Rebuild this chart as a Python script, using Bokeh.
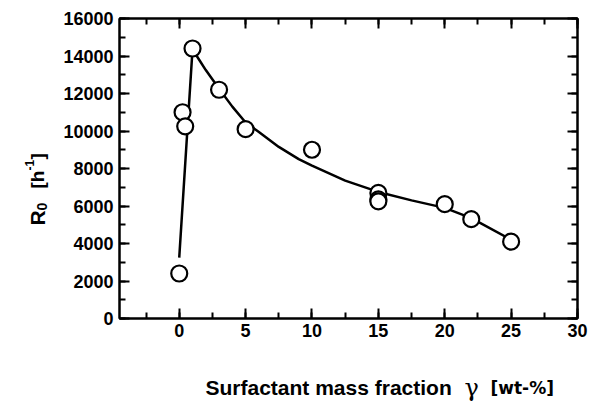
import math
from bokeh.plotting import figure
from bokeh.layouts import row, column
from bokeh.models import (LinearAxis, SingleIntervalTicker, Range1d, Label,
                          CustomJSTickFormatter)
from bokeh.embed import file_html
from bokeh.resources import INLINE

# measured points
data_x = [0, 0.25, 0.45, 1, 3, 5, 10, 15, 15, 15, 20, 22, 25]
data_y = [2400, 11000, 10250, 14400, 12200, 10100, 9000, 6700, 6350, 6250, 6100, 5300, 4100]

# fitted curve
fit_x = [0, 1, 1.5, 2, 3, 4, 5, 6, 7.5, 9, 10, 12.5, 15, 17.5, 20, 22, 25]
fit_y = [3250, 14350, 13800, 13250, 12250, 11300, 10450, 9950, 9150, 8500, 8150,
         7350, 6750, 6300, 5900, 5350, 4200]

x_lim = (-4.5, 30)
y_lim = (0, 16000)
x_title = "Surfactant mass fraction"
x_symbol = "γ"
x_unit = "[wt-%]"

FONT = "Liberation Sans"
W, H = 589, 416
WL = 60          # width of left label strip
HB = 56          # height of bottom label strip

p = figure(width=W - WL, height=H - HB, output_backend="svg", toolbar_location=None,
           x_range=Range1d(*x_lim), y_range=Range1d(*y_lim),
           min_border_left=117 - WL, min_border_right=12, min_border_top=18,
           min_border_bottom=98 - HB)
p.background_fill_color = "white"
p.border_fill_color = "white"
p.grid.visible = False
p.outline_line_color = "black"
p.outline_line_width = 2

p.xaxis.ticker = SingleIntervalTicker(interval=5, num_minor_ticks=2)
p.yaxis.ticker = SingleIntervalTicker(interval=2000, num_minor_ticks=2)

empty = CustomJSTickFormatter(code="return ''")
p.add_layout(LinearAxis(ticker=SingleIntervalTicker(interval=5, num_minor_ticks=2),
                        formatter=empty), "above")
p.add_layout(LinearAxis(ticker=SingleIntervalTicker(interval=2000, num_minor_ticks=2),
                        formatter=empty), "right")

for ax in p.axis:
    ax.axis_line_width = 2
    ax.axis_line_color = "black"
    ax.major_tick_in = 10
    ax.major_tick_out = 0
    ax.minor_tick_in = 6
    ax.minor_tick_out = 0
    ax.major_tick_line_width = 2
    ax.minor_tick_line_width = 2
    ax.major_label_text_font = FONT
    ax.major_label_text_font_style = "bold"
    ax.major_label_text_font_size = "18px"
    ax.major_label_text_color = "black"

for ax in p.above + p.right:
    ax.major_label_text_font_size = "0px"
    ax.major_label_standoff = 0

p.xaxis[0].major_label_standoff = 14
p.yaxis[0].major_label_standoff = 6

p.line(fit_x, fit_y, line_color="black", line_width=2.5)
p.scatter(data_x, data_y, marker="circle", size=16, fill_color="white",
          line_color="black", line_width=2.2)


def blank(w, h):
    f = figure(width=w, height=h, output_backend="svg", toolbar_location=None,
               x_axis_type=None, y_axis_type=None, min_border=0,
               x_range=Range1d(0, 1), y_range=Range1d(0, 1))
    f.grid.visible = False
    f.outline_line_color = None
    f.background_fill_color = "white"
    f.border_fill_color = "white"
    return f


def lab(f, text, cx, cy, size, font=FONT, bold=True, angle=0.0):
    f.add_layout(Label(x=cx, y=cy, x_units="canvas", y_units="canvas",
                       text=text, angle=angle, text_font=font,
                       text_font_style="bold" if bold else "normal",
                       text_font_size=size, text_baseline="alphabetic",
                       text_align="left", text_color="black"))


# bottom strip: x-axis title pieces (local coords: x - WL, y - (H - HB))
fb = blank(W - WL, HB)
oy = H - HB
lab(fb, x_title, 205 - WL, 387 - oy, "21px")
lab(fb, x_symbol, 464 - WL, 387 - oy, "24px", font="DejaVu Serif", bold=False)
lab(fb, x_unit, 490 - WL, 387 - oy, "17px", font="DejaVu Sans")

# left strip: y-axis title pieces (rotated)
fl = blank(WL, H)
ang = math.pi / 2
lab(fl, "R", 37, 225, "21px", angle=ang)
lab(fl, "0", 41, 210, "14px", angle=ang)
lab(fl, "[h", 37, 188, "19px", angle=ang)
lab(fl, "-1", 29, 170, "12px", angle=ang)
lab(fl, "]", 37, 159, "19px", angle=ang)

layout = row(fl, column(p, fb, spacing=0), spacing=0)
open("out.html", "w").write(file_html(layout, INLINE))
